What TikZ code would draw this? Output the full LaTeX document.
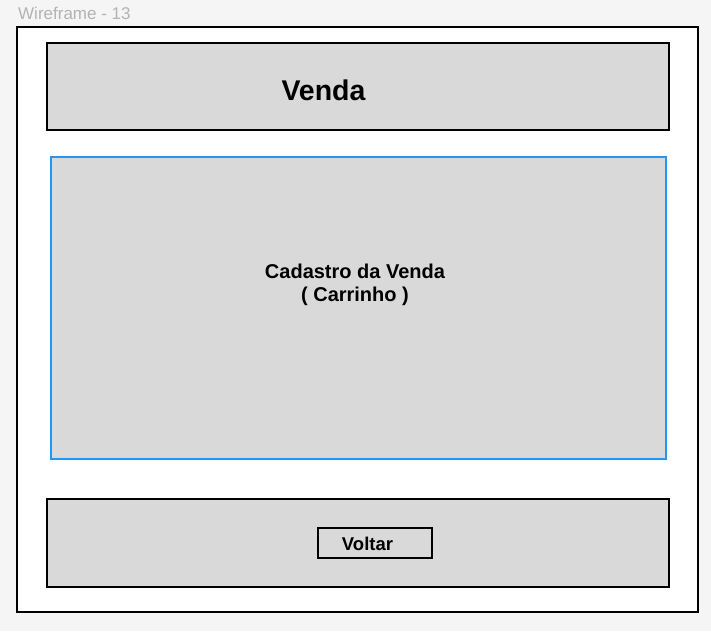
\documentclass[tikz,border=0pt]{standalone}
\usepackage{fontspec}
\setmainfont{Liberation Sans}
\definecolor{pagebg}{HTML}{F5F5F5}
\definecolor{boxgray}{HTML}{D9D9D9}
\definecolor{blueline}{HTML}{2196F3}
\definecolor{labelgray}{HTML}{B3B3B3}
\tikzset{
  panel/.style={draw=black, fill=boxgray, line width=2pt},
  bluepanel/.style={draw=blueline, fill=boxgray, line width=2.5pt},
  btn/.style={draw=black, fill=boxgray, line width=1.1pt},
  txt/.style={font=\bfseries, text=black, align=center}
}
\begin{document}
\begin{tikzpicture}[x=1pt,y=-1pt]
\useasboundingbox (0,0) rectangle (711,631);
\fill[pagebg] (0,0) rectangle (711,631);
\node[anchor=base west, inner sep=0, text=labelgray, font=\fontsize{17}{20}\selectfont] (title) at (18,20) {Wireframe - 13};
\draw[fill=white, line width=2pt] (17,27) rectangle (698,612);
\draw[panel] (47,43) rectangle (669,130);
\node[txt, font=\fontsize{28.5}{32}\bfseries\selectfont] (venda) at (323.5,90) {Venda};
\draw[bluepanel] (51,157) rectangle (666,459);
\node[txt, font=\fontsize{20}{22.5}\bfseries\selectfont] (cad) at (355,285) {Cadastro da Venda\\( Carrinho )};
\draw[panel] (47,499) rectangle (669,587);
\draw[btn] (318,528) rectangle (432,558);
\node[txt, font=\fontsize{18.5}{21}\bfseries\selectfont] (voltar) at (367.5,544) {Voltar};
\end{tikzpicture}
\end{document}
